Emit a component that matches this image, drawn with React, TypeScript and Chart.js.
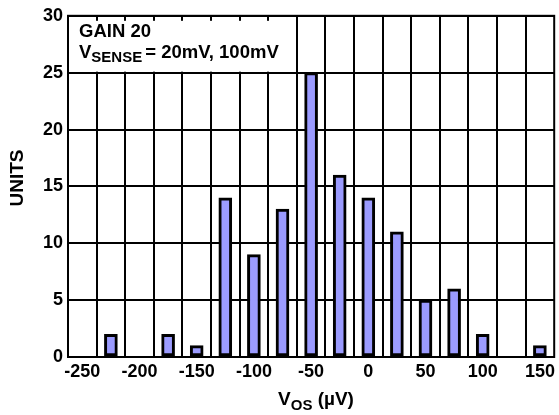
import React, { useEffect, useRef } from "react";
import { Chart, registerables } from "chart.js";

Chart.register(...registerables);

const binCenters = [-225, -175, -150, -125, -100, -75, -50, -25, 0, 25, 50, 75, 100, 150];
const units = [2, 2, 1, 14, 9, 13, 25, 16, 14, 11, 5, 6, 2, 1];
const xTickLabels = [-250, -200, -150, -100, -50, 0, 50, 100, 150];
const binEdges = [
  -237.5, -212.5, -187.5, -162.5, -137.5, -112.5, -87.5, -62.5, -37.5, -12.5,
  12.5, 37.5, 62.5, 87.5, 112.5, 137.5,
];
const yTicks = [0, 5, 10, 15, 20, 25, 30];
const xMin = -262.5;
const xMax = 162.5;

const FONT = '"Liberation Sans", Arial, Helvetica, sans-serif';

const overlayPlugin = {
  id: "overlay",
  beforeDatasetsDraw(chart: any) {
    const { ctx, chartArea, scales } = chart;
    const xr = scales.xg.getPixelForValue(-62.5);
    const yb = scales.y.getPixelForValue(25);
    ctx.save();
    ctx.fillStyle = "#ffffff";
    ctx.fillRect(chartArea.left + 1, chartArea.top + 5, xr - chartArea.left - 2, yb - chartArea.top - 6);
    ctx.fillStyle = "#000000";
    ctx.textBaseline = "alphabetic";
    ctx.textAlign = "left";
    ctx.font = `bold 18.5px ${FONT}`;
    ctx.fillText("GAIN 20", 79, 36.5);
    ctx.fillText("V", 79, 57.5);
    const wV = ctx.measureText("V").width;
    ctx.font = `bold 15px ${FONT}`;
    ctx.fillText("SENSE", 79 + wV, 62);
    const wS = ctx.measureText("SENSE").width;
    ctx.font = `bold 18.5px ${FONT}`;
    ctx.fillText("= 20mV, 100mV", 79 + wV + wS + 3, 57.5);
    ctx.restore();
  },
  afterDraw(chart: any) {
    const { ctx, chartArea } = chart;
    ctx.save();
    ctx.strokeStyle = "#000000";
    ctx.lineWidth = 2;
    ctx.strokeRect(chartArea.left, chartArea.top, chartArea.right - chartArea.left, chartArea.bottom - chartArea.top);

    // x title
    ctx.fillStyle = "#000000";
    ctx.textBaseline = "alphabetic";
    ctx.textAlign = "left";
    ctx.font = `bold 19px ${FONT}`;
    const w1 = ctx.measureText("V").width;
    const w3 = ctx.measureText(" (\u00B5V)").width;
    ctx.font = `bold 15px ${FONT}`;
    const w2 = ctx.measureText("OS").width;
    const total = w1 + w2 + w3;
    let x = 316 - total / 2;
    ctx.font = `bold 19px ${FONT}`;
    ctx.fillText("V", x, 405);
    x += w1;
    ctx.font = `bold 15px ${FONT}`;
    ctx.fillText("OS", x, 410);
    x += w2;
    ctx.font = `bold 19px ${FONT}`;
    ctx.fillText(" (\u00B5V)", x, 405);

    // y title
    ctx.translate(17.5, 178);
    ctx.rotate(-Math.PI / 2);
    ctx.textAlign = "center";
    ctx.textBaseline = "middle";
    ctx.font = `bold 19px ${FONT}`;
    ctx.fillText("UNITS", 0, 0);
    ctx.restore();
  },
};

export default function App() {
  const ref = useRef<HTMLCanvasElement | null>(null);
  useEffect(() => {
    if (!ref.current) return;
    const chart = new Chart(ref.current, {
      type: "bar",
      data: {
        datasets: [
          {
            data: binCenters.map((c, i) => ({ x: c, y: units[i] })),
            backgroundColor: "#9b9bff",
            borderColor: "#000000",
            borderWidth: 3,
            borderSkipped: false,
            barThickness: 13,
            xAxisID: "x",
            yAxisID: "y",
          },
        ],
      },
      plugins: [overlayPlugin],
      options: {
        responsive: false,
        animation: false,
        devicePixelRatio: 1,
        layout: { padding: { top: 13, right: 3, left: 0, bottom: 0 } },
        plugins: { legend: { display: false }, tooltip: { enabled: false }, title: { display: false } },
        scales: {
          x: {
            type: "linear",
            position: "bottom",
            offset: false,
            min: xMin,
            max: xMax,
            afterBuildTicks: (scale: any) => {
              scale.ticks = xTickLabels.map((v) => ({ value: v }));
            },
            afterFit: (scale: any) => {
              scale.height = 58;
            },
            grid: { display: false, drawTicks: false, offset: false },
            border: { display: true, color: "#000000", width: 2 },
            ticks: {
              color: "#000000",
              font: { family: FONT, size: 18, weight: "bold" },
              padding: 4,
              maxRotation: 0,
              autoSkip: false,
            },
          },
          xg: {
            type: "linear",
            position: "bottom",
            offset: false,
            min: xMin,
            max: xMax,
            afterBuildTicks: (scale: any) => {
              scale.ticks = binEdges.map((v) => ({ value: v }));
            },
            afterFit: (scale: any) => {
              scale.height = 0;
            },
            grid: { display: true, color: "#000000", lineWidth: 2, drawTicks: false, offset: false },
            border: { display: false },
            ticks: { display: false },
          },
          y: {
            min: 0,
            max: 30,
            afterBuildTicks: (scale: any) => {
              scale.ticks = yTicks.map((v) => ({ value: v }));
            },
            afterFit: (scale: any) => {
              scale.width = 68;
            },
            grid: { display: true, color: "#000000", lineWidth: 2, drawTicks: false },
            border: { display: true, color: "#000000", width: 2 },
            ticks: {
              color: "#000000",
              font: { family: FONT, size: 18, weight: "bold" },
              padding: 5,
            },
          },
        },
      } as any,
    });
    return () => chart.destroy();
  }, []);
  return (
    <div style={{ position: "absolute", left: 0, top: 0, width: 559, height: 415 }}>
      <canvas ref={ref} width={559} height={415} style={{ width: 559, height: 415 }} />
    </div>
  );
}
